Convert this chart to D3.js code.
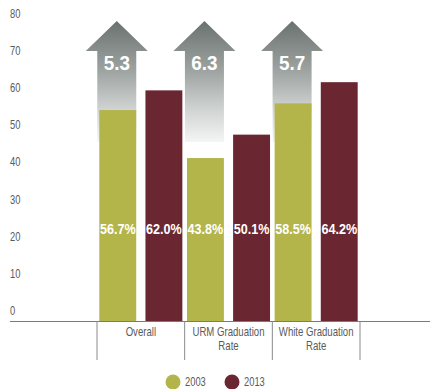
<!DOCTYPE html>
<html>
<head>
<meta charset="utf-8">
<script src="https://cdn.jsdelivr.net/npm/d3@7/dist/d3.min.js"></script>
<style>
html,body{margin:0;padding:0;background:#fff;}
svg{display:block;}
text{font-family:"Liberation Sans",Arial,sans-serif;}
</style>
</head>
<body>
<svg id="chart" width="430" height="389"></svg>
<script>
const categories = [["Overall"], ["URM Graduation", "Rate"], ["White Graduation", "Rate"]];
const categoryKeys = ["Overall", "URM", "White"];
const series = ["2003", "2013"];
const values2003 = [56.7, 43.8, 58.5];
const values2013 = [62.0, 50.1, 64.2];
const changes = ["5.3", "6.3", "5.7"];
const yTicks = [0, 10, 20, 30, 40, 50, 60, 70, 80];

const colors = {"2003": "#b3b54b", "2013": "#6a2731"};
const svg = d3.select("#chart");

// condensed text helper: translate + horizontal squeeze
function ctext(parent, x, y, str, o) {
  const g = parent.append("g").attr("transform", `translate(${x},${y}) scale(${o.sx || 0.78},1)`);
  return g.append("text").attr("dy", "0.35em")
    .attr("text-anchor", o.anchor || "start")
    .attr("font-size", o.size || 12)
    .attr("font-weight", o.weight || "normal")
    .attr("fill", o.fill || "#5a5a5a")
    .text(str);
}

const baseY = 321;
const y = d3.scaleLinear().domain([0, 80]).range([baseY, baseY - 80 * 3.72]);
const x0 = d3.scaleBand().domain(categoryKeys).range([97, 360]).paddingInner(0).paddingOuter(0);
const x1 = d3.scaleBand().domain(series).range([0, x0.bandwidth()]).paddingInner(0.2).paddingOuter(0.05);

const defs = svg.append("defs");
const grad = defs.append("linearGradient").attr("id", "ag").attr("x1", 0).attr("y1", 0).attr("x2", 0).attr("y2", 1);
grad.append("stop").attr("offset", "0").attr("stop-color", "#6a7270");
grad.append("stop").attr("offset", "0.4").attr("stop-color", "#9ca2a0");
grad.append("stop").attr("offset", "0.75").attr("stop-color", "#d3d6d5");
grad.append("stop").attr("offset", "1").attr("stop-color", "#f4f5f5");

// y tick labels
yTicks.forEach(t => ctext(svg, 10, y(t) - 10, String(t), {size: 12}));

// arrows
const arrows = svg.append("g");
categoryKeys.forEach((k, i) => {
  const bx = x0(k) + x1("2003");
  const cx = bx + x1.bandwidth() / 2 - 1;
  const tipY = 21, headY = 51, botY = 142;
  const hw = 31, sw = 19.5;
  const pts = [[cx, tipY], [cx + hw, headY], [cx + sw, headY], [cx + sw, botY], [cx - sw, botY], [cx - sw, headY], [cx - hw, headY]];
  arrows.append("path").attr("d", d3.line()(pts) + "Z").attr("fill", "url(#ag)");
  ctext(arrows, cx, 63, changes[i], {size: 21, weight: "bold", anchor: "middle", fill: "#fff", sx: 0.9});
});

// bars
const data = categoryKeys.map((k, i) => ({k, vals: [{s: "2003", v: values2003[i]}, {s: "2013", v: values2013[i]}]}));
const g = svg.append("g").selectAll("g").data(data).join("g")
  .attr("transform", d => `translate(${x0(d.k)},0)`);
g.selectAll("rect").data(d => d.vals).join("rect")
  .attr("x", d => x1(d.s)).attr("width", x1.bandwidth())
  .attr("y", d => y(d.v)).attr("height", d => baseY - y(d.v))
  .attr("fill", d => colors[d.s]);
g.each(function(d) {
  const sel = d3.select(this);
  d.vals.forEach(v => {
    ctext(sel, x1(v.s) + x1.bandwidth() / 2, 229, v.v.toFixed(1) + "%", {size: 15, weight: "bold", anchor: "middle", fill: "#fff", sx: 0.84});
  });
});

// axis line
svg.append("line").attr("x1", 10).attr("x2", 430).attr("y1", baseY + 0.5).attr("y2", baseY + 0.5)
  .attr("stroke", "#7a7a7a").attr("stroke-width", 1.2);
// separators
const seps = categoryKeys.map(k => x0(k)).concat([x0.range()[1]]);
svg.append("g").selectAll("line").data(seps).join("line")
  .attr("x1", d => d).attr("x2", d => d).attr("y1", baseY).attr("y2", 360)
  .attr("stroke", "#8a8a8a").attr("stroke-width", 1);
// category labels
categoryKeys.forEach((k, i) => {
  categories[i].forEach((line, j) => {
    ctext(svg, x0(k) + x0.bandwidth() / 2, 332 + j * 13.5, line, {size: 12, anchor: "middle", sx: 0.8});
  });
});

// legend
const legX = [173, 232];
series.forEach((s, i) => {
  svg.append("circle").attr("cx", legX[i]).attr("cy", 382).attr("r", 7.5).attr("fill", colors[s]);
  ctext(svg, legX[i] + 12, 382, s, {size: 12});
});
</script>
</body>
</html>
